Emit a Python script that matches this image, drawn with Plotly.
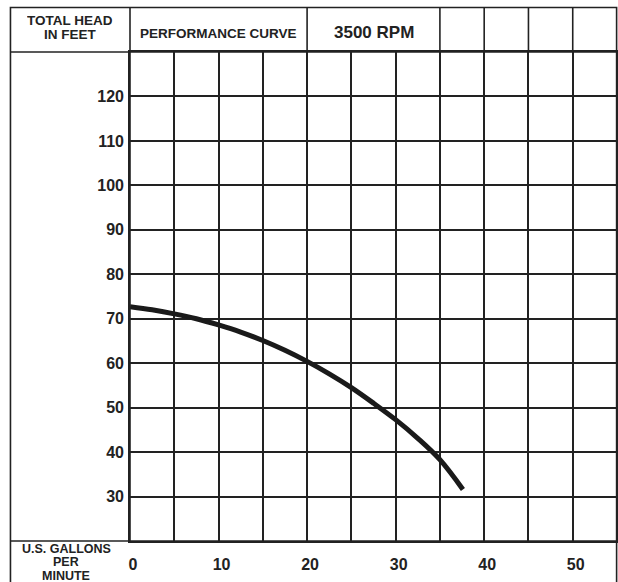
import plotly.graph_objects as go

# ---- data ----
flow_gpm = [0, 2.5, 5, 7.5, 10, 12.5, 15, 17.5, 20, 22.5, 25, 27.5, 30, 32.5, 35, 37.6]
head_ft = [72.7, 72.0, 71.1, 70.0, 68.6, 67.0, 65.1, 62.9, 60.4, 57.6, 54.5, 51.0,
           47.3, 43.1, 38.3, 31.6]

x_ticks = [0, 10, 20, 30, 40, 50]
y_ticks = [30, 40, 50, 60, 70, 80, 90, 100, 110, 120]

header_labels = ["TOTAL HEAD", "IN FEET", "PERFORMANCE CURVE", "3500 RPM"]
x_title_lines = ["U.S. GALLONS", "PER", "MINUTE"]

X_MIN, X_MAX = 0, 55
Y_MIN, Y_MAX = 20, 130
INK = "#222222"
FONT = "Liberation Sans"


def px(v):
    return (v - X_MIN) / (X_MAX - X_MIN)


def py(v):
    return (v - Y_MIN) / (Y_MAX - Y_MIN)


fig = go.Figure()
fig.add_trace(go.Scatter(
    x=flow_gpm, y=head_ft, mode="lines",
    line=dict(color="#1a1a1a", width=5, shape="spline", smoothing=1),
    hoverinfo="skip", showlegend=False,
))

# frame: header row (y 130..140) and label row (below 20), left column x -13.5..0
LEFT, TOP, BOTTOM = -13.5, 140, 0
line_style = dict(color=INK, width=1.6)
shapes = []
shapes.append(dict(type="rect", xref="paper", yref="paper",
                   x0=px(LEFT), x1=px(X_MAX) - 0.0008, y0=py(BOTTOM), y1=py(TOP),
                   line=line_style, fillcolor="rgba(0,0,0,0)", layer="above"))
for yv in [Y_MAX, Y_MIN]:
    shapes.append(dict(type="line", xref="paper", yref="paper",
                       x0=px(LEFT), x1=px(X_MAX), y0=py(yv), y1=py(yv), line=line_style))
shapes.append(dict(type="line", xref="paper", yref="paper",
                   x0=px(0), x1=px(0), y0=py(Y_MIN), y1=py(TOP), line=line_style))
for xv in [20, 35, 40, 45, 50]:
    shapes.append(dict(type="line", xref="paper", yref="paper",
                       x0=px(xv), x1=px(xv), y0=py(Y_MAX), y1=py(TOP), line=line_style))

ann = []
def add_text(text, xv, yv, size, box_h=None):
    a = dict(text=text, xref="paper", yref="paper", x=px(xv), y=py(yv),
             xanchor="center", yanchor="middle", showarrow=False,
             font=dict(family=FONT, size=size, color=INK, weight="bold"))
    if box_h:
        a["height"] = box_h
    ann.append(a)

add_text(header_labels[0], -6.75, 137.1, 13.5, 12)
add_text(header_labels[1], -6.75, 134.1, 13.5, 12)
add_text(header_labels[2], 10, 134.2, 13.5)
add_text(header_labels[3], 27.5, 134.4, 17)
add_text(x_title_lines[0], -7.2, 18.4, 12.5, 11)
add_text(x_title_lines[1], -7.2, 15.3, 12.5, 11)
add_text(x_title_lines[2], -7.2, 12.2, 12.5, 11)

fig.update_layout(
    width=618, height=582,
    margin=dict(l=130, r=1, t=52, b=41, autoexpand=False),
    paper_bgcolor="white", plot_bgcolor="white",
    shapes=shapes, annotations=ann,
    font=dict(family=FONT, color=INK),
    xaxis=dict(range=[X_MIN, X_MAX], tickvals=x_ticks, showgrid=True,
               gridcolor=INK, gridwidth=1.6, zeroline=False,
               showline=True, linecolor=INK, linewidth=1.6, mirror=True,
               ticks="", ticklabelstandoff=8, ticklabelshift=3,
               minor=dict(dtick=5, showgrid=True, gridcolor=INK, gridwidth=1.6),
               tickfont=dict(family=FONT, size=16, color=INK, weight="bold"),
               fixedrange=True),
    yaxis=dict(range=[Y_MIN, Y_MAX], tickvals=y_ticks, showgrid=True,
               gridcolor=INK, gridwidth=1.6, zeroline=False,
               showline=True, linecolor=INK, linewidth=1.6, mirror=True,
               ticks="", ticklabelstandoff=1,
               tickfont=dict(family=FONT, size=16, color=INK, weight="bold"),
               fixedrange=True),
)

fig.write_html("out.html", config={"displayModeBar": False},
               post_script="document.body.style.margin='0';")
